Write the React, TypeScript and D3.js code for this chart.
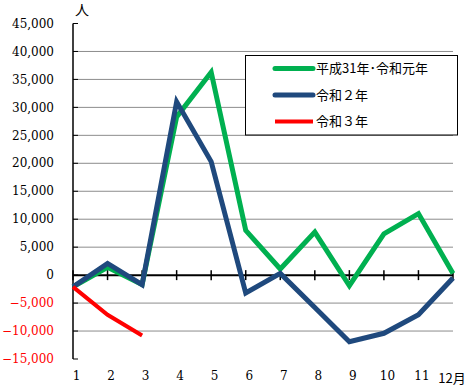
import React from 'react'
import * as d3 from 'd3'

// monthly values
const months = [1, 2, 3, 4, 5, 6, 7, 8, 9, 10, 11, 12]
const monthLabels = ['1', '2', '3', '4', '5', '6', '7', '8', '9', '10', '11', '12月']
const h31r1 = [-2100, 1400, -1700, 28300, 36300, 8000, 1100, 7700, -1900, 7400, 11000, 300]
const r2 = [-2100, 2100, -1700, 31000, 20300, -3200, 300, -5800, -11900, -10400, -7100, -500]
const r3 = [-2100, -7100, -10800]
const yTicks = [-15000, -10000, -5000, 0, 5000, 10000, 15000, 20000, 25000, 30000, 35000, 40000, 45000]

const seriesList = [
    { name: '平成31年･令和元年', values: h31r1, color: '#00B050', width: 5 },
    { name: '令和２年', values: r2, color: '#1F497D', width: 5 },
    { name: '令和３年', values: r3, color: '#FF0000', width: 4 },
]

const W = 470, H = 387
const left = 73, right = 453, top = 23.5, bottom = 359

export default function App() {
    const x = d3.scaleLinear().domain([1, 12]).range([left, right])
    const y = d3.scaleLinear().domain([-15000, 45000]).range([bottom, top])
    const fmt = d3.format(',')

    const line = d3.line<number>()
        .x((d, i) => x(months[i]))
        .y(d => y(d))

    const numFont = "'DejaVu Serif', serif"
    const jpFont = "'Noto Sans CJK JP', sans-serif"

    return (
        <svg width={W} height={H} style={{ position: 'absolute', left: 0, top: 0, background: '#fff' }}>
            {/* gridlines */}
            {yTicks.filter(t => t !== 0 && t !== 45000 && t !== -15000).map(t => (
                <line key={t} x1={left} x2={right} y1={y(t)} y2={y(t)} stroke="#8c8c8c" strokeWidth={1} />
            ))}

            {/* y axis */}
            <line x1={left} x2={left} y1={top} y2={bottom} stroke="#000" strokeWidth={1.5} />
            {yTicks.map(t => (
                <g key={t}>
                    <line x1={left} x2={left + 5} y1={y(t)} y2={y(t)} stroke="#000" strokeWidth={1} />
                    <text x={54} y={y(t)} dy="0.35em" textAnchor="end" fontFamily={numFont} fontSize={12}
                        fill={t < 0 ? '#FF0000' : '#000'}>{fmt(t)}</text>
                </g>
            ))}
            <text x={82} y={15} textAnchor="middle" fontFamily={jpFont} fontSize={14}>人</text>

            {/* x axis at zero */}
            <line x1={left} x2={right} y1={y(0)} y2={y(0)} stroke="#000" strokeWidth={2} />
            {months.map(m => (
                <line key={m} x1={x(m)} x2={x(m)} y1={y(0) - 5} y2={y(0) + 5} stroke="#000" strokeWidth={1.5} />
            ))}
            {months.map((m, i) => (
                <text key={m} x={i === 11 ? x(m) - 1 : x(m) + 3.5} y={i === 11 ? 383 : 380}
                    textAnchor="middle" fontFamily={i === 11 ? jpFont : numFont} fontSize={i === 11 ? 13 : 12}>
                    {monthLabels[i]}
                </text>
            ))}

            {/* legend */}
            <rect x={245.5} y={55.5} width={212} height={79.5} fill="#fff" stroke="#000" strokeWidth={1} />
            {seriesList.map((s, i) => (
                <g key={s.name}>
                    <line x1={275} x2={313} y1={68.5 + i * 26.5} y2={68.5 + i * 26.5} stroke={s.color}
                        strokeWidth={s.width} strokeLinecap={i === 2 ? 'butt' : 'round'} />
                    <text x={316} y={68.5 + i * 26.5} dy="0.35em" fontFamily={jpFont} fontSize={13}>{s.name}</text>
                </g>
            ))}

            {/* series */}
            {seriesList.map(s => (
                <path key={s.name} d={line(s.values) ?? ''} fill="none" stroke={s.color}
                    strokeWidth={s.width} strokeLinejoin="miter" />
            ))}
        </svg>
    )
}
